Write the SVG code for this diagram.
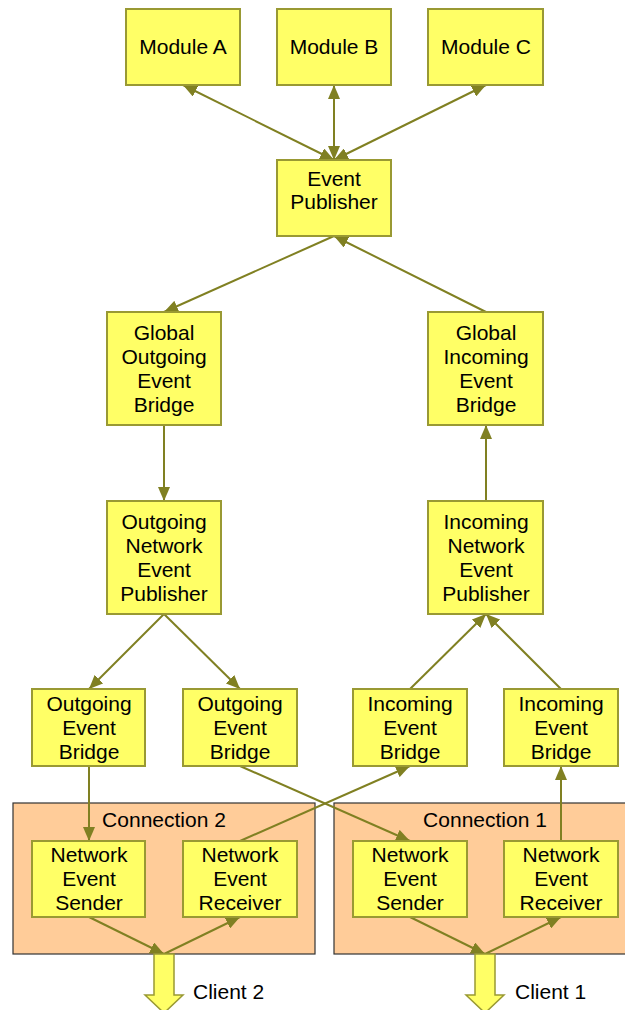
<svg xmlns="http://www.w3.org/2000/svg" width="625" height="1010" viewBox="0 0 625 1010">
  <style>
    .box { fill: #ffff66; stroke: #999933; stroke-width: 2; }
    .group { fill: #ffcc99; stroke: #333333; stroke-width: 1.2; }
    .lbl { font-family: "Liberation Sans", Arial, sans-serif; font-size: 21px; fill: #000; text-anchor: middle; }
    .lbl-left { font-family: "Liberation Sans", Arial, sans-serif; font-size: 21px; fill: #000; }
    .edge { stroke: #808022; stroke-width: 2; fill: none; }
    .client { fill: #ffff66; stroke: #999933; stroke-width: 1.5; }
  </style>
  <defs>
    <marker id="head" viewBox="0 0 14 12" refX="14" refY="6" markerWidth="14" markerHeight="12" markerUnits="userSpaceOnUse" orient="auto-start-reverse">
      <path d="M0,0 L14,6 L0,12 Z" fill="#808022"/>
    </marker>
  </defs>

  <rect width="625" height="1010" fill="#ffffff"/>

  <!-- connection containers -->
  <g id="connection2">
    <rect class="group" x="13" y="803" width="302" height="151"/>
    <text class="lbl" x="164" y="827">Connection 2</text>
  </g>
  <g id="connection1">
    <rect class="group" x="334" y="803" width="295" height="151"/>
    <text class="lbl" x="485" y="827">Connection 1</text>
  </g>

  <!-- connectors -->
  <g id="connectors">
    <line class="edge" x1="183" y1="85" x2="334" y2="160" marker-start="url(#head)" marker-end="url(#head)"/>
    <line class="edge" x1="334" y1="85" x2="334" y2="160" marker-start="url(#head)" marker-end="url(#head)"/>
    <line class="edge" x1="486" y1="85" x2="334" y2="160" marker-start="url(#head)" marker-end="url(#head)"/>
    <line class="edge" x1="334" y1="236" x2="164" y2="312" marker-end="url(#head)"/>
    <line class="edge" x1="486" y1="312" x2="334" y2="236" marker-end="url(#head)"/>
    <line class="edge" x1="164" y1="425" x2="164" y2="501" marker-end="url(#head)"/>
    <line class="edge" x1="486" y1="501" x2="486" y2="425" marker-end="url(#head)"/>
    <line class="edge" x1="164" y1="614" x2="89" y2="689" marker-end="url(#head)"/>
    <line class="edge" x1="164" y1="614" x2="240" y2="689" marker-end="url(#head)"/>
    <line class="edge" x1="410" y1="689" x2="486" y2="614" marker-end="url(#head)"/>
    <line class="edge" x1="561" y1="689" x2="486" y2="614" marker-end="url(#head)"/>
    <line class="edge" x1="89" y1="766" x2="89" y2="841" marker-end="url(#head)"/>
    <line class="edge" x1="240" y1="766" x2="410" y2="841" marker-end="url(#head)"/>
    <line class="edge" x1="240" y1="841" x2="410" y2="766" marker-end="url(#head)"/>
    <line class="edge" x1="561" y1="841" x2="561" y2="766" marker-end="url(#head)"/>
    <line class="edge" x1="89" y1="917" x2="164" y2="954" marker-end="url(#head)"/>
    <line class="edge" x1="164" y1="954" x2="240" y2="917" marker-end="url(#head)"/>
    <line class="edge" x1="410" y1="917" x2="485" y2="954" marker-end="url(#head)"/>
    <line class="edge" x1="485" y1="954" x2="561" y2="917" marker-end="url(#head)"/>
  </g>

  <!-- nodes -->
  <g id="moduleA">
    <rect class="box" x="126" y="9" width="114" height="76"/>
    <text class="lbl" x="183" y="54">Module A</text>
  </g>
  <g id="moduleB">
    <rect class="box" x="277" y="9" width="114" height="76"/>
    <text class="lbl" x="334" y="54">Module B</text>
  </g>
  <g id="moduleC">
    <rect class="box" x="428" y="9" width="115" height="76"/>
    <text class="lbl" x="486" y="54">Module C</text>
  </g>
  <g id="eventPublisher">
    <rect class="box" x="277" y="160" width="114" height="76"/>
    <text class="lbl" x="334" y="186">Event</text>
    <text class="lbl" x="334" y="209">Publisher</text>
  </g>
  <g id="globalOutgoingBridge">
    <rect class="box" x="107" y="312" width="114" height="113"/>
    <text class="lbl" x="164" y="340">Global</text>
    <text class="lbl" x="164" y="364">Outgoing</text>
    <text class="lbl" x="164" y="388">Event</text>
    <text class="lbl" x="164" y="412">Bridge</text>
  </g>
  <g id="globalIncomingBridge">
    <rect class="box" x="428" y="312" width="115" height="113"/>
    <text class="lbl" x="486" y="340">Global</text>
    <text class="lbl" x="486" y="364">Incoming</text>
    <text class="lbl" x="486" y="388">Event</text>
    <text class="lbl" x="486" y="412">Bridge</text>
  </g>
  <g id="outgoingNetworkPublisher">
    <rect class="box" x="107" y="501" width="114" height="113"/>
    <text class="lbl" x="164" y="529">Outgoing</text>
    <text class="lbl" x="164" y="553">Network</text>
    <text class="lbl" x="164" y="577">Event</text>
    <text class="lbl" x="164" y="601">Publisher</text>
  </g>
  <g id="incomingNetworkPublisher">
    <rect class="box" x="428" y="501" width="115" height="113"/>
    <text class="lbl" x="486" y="529">Incoming</text>
    <text class="lbl" x="486" y="553">Network</text>
    <text class="lbl" x="486" y="577">Event</text>
    <text class="lbl" x="486" y="601">Publisher</text>
  </g>
  <g id="outgoingBridge2">
    <rect class="box" x="32" y="689" width="113" height="77"/>
    <text class="lbl" x="89" y="711">Outgoing</text>
    <text class="lbl" x="89" y="735">Event</text>
    <text class="lbl" x="89" y="759">Bridge</text>
  </g>
  <g id="outgoingBridge1">
    <rect class="box" x="183" y="689" width="114" height="77"/>
    <text class="lbl" x="240" y="711">Outgoing</text>
    <text class="lbl" x="240" y="735">Event</text>
    <text class="lbl" x="240" y="759">Bridge</text>
  </g>
  <g id="incomingBridge2">
    <rect class="box" x="353" y="689" width="114" height="77"/>
    <text class="lbl" x="410" y="711">Incoming</text>
    <text class="lbl" x="410" y="735">Event</text>
    <text class="lbl" x="410" y="759">Bridge</text>
  </g>
  <g id="incomingBridge1">
    <rect class="box" x="504" y="689" width="114" height="77"/>
    <text class="lbl" x="561" y="711">Incoming</text>
    <text class="lbl" x="561" y="735">Event</text>
    <text class="lbl" x="561" y="759">Bridge</text>
  </g>
  <g id="sender2">
    <rect class="box" x="32" y="841" width="113" height="76"/>
    <text class="lbl" x="89" y="862">Network</text>
    <text class="lbl" x="89" y="886">Event</text>
    <text class="lbl" x="89" y="910">Sender</text>
  </g>
  <g id="receiver2">
    <rect class="box" x="183" y="841" width="114" height="76"/>
    <text class="lbl" x="240" y="862">Network</text>
    <text class="lbl" x="240" y="886">Event</text>
    <text class="lbl" x="240" y="910">Receiver</text>
  </g>
  <g id="sender1">
    <rect class="box" x="353" y="841" width="114" height="76"/>
    <text class="lbl" x="410" y="862">Network</text>
    <text class="lbl" x="410" y="886">Event</text>
    <text class="lbl" x="410" y="910">Sender</text>
  </g>
  <g id="receiver1">
    <rect class="box" x="504" y="841" width="114" height="76"/>
    <text class="lbl" x="561" y="862">Network</text>
    <text class="lbl" x="561" y="886">Event</text>
    <text class="lbl" x="561" y="910">Receiver</text>
  </g>

  <!-- client outputs -->
  <g id="client2">
    <path class="client" d="M154,954 L174,954 L174,995 L183,995 L164,1013 L145,995 L154,995 Z"/>
    <text class="lbl-left" x="193" y="999">Client 2</text>
  </g>
  <g id="client1">
    <path class="client" d="M475,954 L495,954 L495,995 L504,995 L485,1013 L466,995 L475,995 Z"/>
    <text class="lbl-left" x="515" y="999">Client 1</text>
  </g>
</svg>
